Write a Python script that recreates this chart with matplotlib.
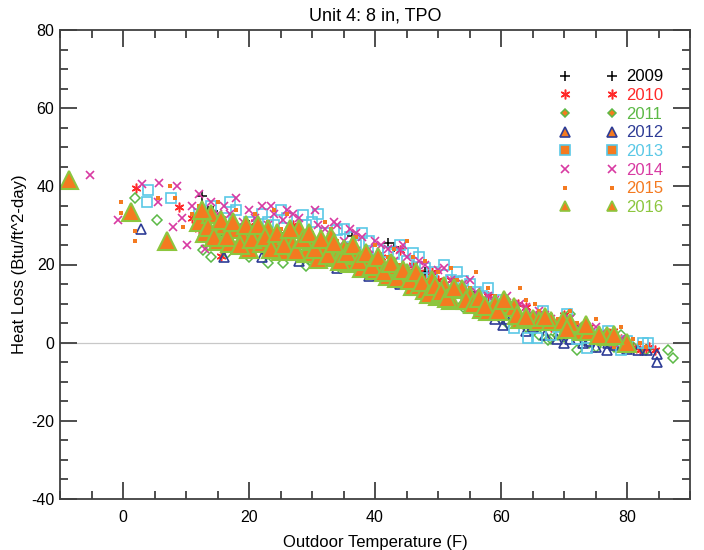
import matplotlib
matplotlib.use("Agg")
import matplotlib.pyplot as plt
from matplotlib.lines import Line2D
from matplotlib.ticker import MultipleLocator

plt.rcParams['font.family'] = ['Liberation Sans', 'DejaVu Sans']
plt.rcParams['axes.unicode_minus'] = False

years = ['2009', '2010', '2011', '2012', '2013', '2014', '2015', '2016']
colors = ['#000000', '#ff2a2a', '#5cb946', '#2e3c96', '#5ac8e6', '#d83aa2', '#f47a20', '#8cc63e']
fill_2016 = '#f47a20'

t2009 = [12.5, 13.5, 14.3, 20, 25, 31, 36.3, 42, 43, 48, 55, 65, 72]
h2009 = [37.4, 33.8, 33.8, 30, 28, 26, 27.4, 25.6, 24.6, 18, 13, 7, 4]

t2010 = [2.1, 8.9, 11, 13, 15.6, 17, 19, 21, 24, 26, 29, 32, 34, 37, 40, 42, 44, 47, 50, 53,
         56, 59, 62.7, 64, 66, 68, 70, 72, 75, 77.8, 79, 84.5, 83,
         12, 14, 16, 18, 20, 22, 23, 25, 27, 28, 30, 33, 35, 36, 38, 39, 41, 43, 45, 46,
         48, 49, 51, 52, 54, 55, 57, 58, 60, 61, 63, 65, 67, 69, 71, 73, 74, 76, 78, 80,
         81, 82, 83.5]
h2010 = [39.5, 34.6, 32, 27, 22.3, 30, 26, 31, 27, 24, 28, 25, 23, 24, 21, 20, 23.6, 18, 16, 13,
         12, 10, 10, 9, 6, 4, 7, 3, 2, 3, 1, -2, -1.5,
         29, 33, 28, 25, 28, 24, 29, 26, 30, 22, 26, 27, 22, 25, 20, 23, 22, 19, 17, 20,
         16, 18, 14, 16, 13, 11, 10, 12, 8, 10, 6, 7, 5, 5, 3, 2, 4, 1, 2, 0,
         -1, -2, -1]

t2011 = [1.9, 5.4, 12.7, 15, 16.5, 20, 22, 25.4, 28, 30, 33, 34.4, 38, 40, 43, 45, 48, 50, 53, 56,
         58, 60, 63, 65, 67.5, 69, 71, 72, 73, 75, 77, 79, 81, 86.5, 87.3,
         14, 18, 21, 23, 26, 29, 31, 36, 39, 42, 46, 49, 51, 54, 57, 59, 61, 64, 66, 68,
         70, 74, 76, 78, 80, 83]
h2011 = [37, 31.5, 23.6, 27, 23, 22, 25, 20.5, 23, 20.5, 22, 19, 20, 17, 18, 15, 14, 12, 11, 8,
         9, 6, 5, 3, 0.8, 2, 7.4, -1.9, 1, -1, 0.5, 2, -1, -2, -3.8,
         22, 26, 24, 20.5, 23, 19.5, 22, 20, 18, 16, 16, 13, 10, 9, 7, 7, 5, 4, 2, 1,
         1.5, 0, 1, -1, 0, -2]

t2012 = [2.9, 15, 18, 21, 24, 27, 30, 33, 36, 38, 41, 43, 46, 49, 52, 55, 58, 60.3, 63, 65,
         67, 68.9, 71, 73, 75, 76.8, 78, 80, 81.7, 83.2, 84.8, 84.8,
         14, 16, 19, 22, 25, 28, 31, 34, 37, 39, 42, 44, 47, 50, 53, 56, 59, 61, 64, 66,
         70, 72, 74, 77]
h2012 = [29, 26, 24, 26, 23, 24, 22, 21, 21, 19, 18, 17, 15, 13, 11, 9, 8, 4.4, 5, 4,
         2, 1, 1, 0, -1, -2, -0.5, -1.5, -1.9, -1.9, -2.9, -5,
         28, 22, 27, 22, 25, 21, 24, 19, 22, 17, 19, 15, 16, 12, 13, 10, 6, 6, 3, 5,
         0, 2, 0.5, 0]

t2013 = [4, 3.8, 7.6, 12, 14, 16, 18, 20, 22, 24, 26, 28.5, 30, 32, 34, 36, 38, 40.5, 42, 43,
         45, 47, 49, 51, 52, 54, 56, 58, 60, 62, 64.3, 65.7, 66.7, 68, 70.5, 72, 73.6, 76, 77,
         79, 82.5, 83.3,
         13, 17, 19, 23, 25, 29, 31, 35, 37, 39, 44, 46, 48, 53, 55, 57, 59, 61, 69, 75, 80]
h2013 = [39, 36, 37, 33, 35, 32, 34, 31, 33, 30, 32, 32.6, 31, 28, 28.7, 27, 28, 23.6, 23.3, 22.8,
         21, 21.8, 18, 20, 16, 15.9, 13, 14, 11, 3.8, 1.3, 1.3, 8.2, 2, 7.4, 1, -1.3, 1, 3,
         -2, 0, 0,
         31, 36, 29, 31, 34, 30, 33, 29, 25, 26, 25, 23, 19, 18, 15, 12, 10, 8, 4, 2, 0.5]

t2014 = [-5.2, -0.8, 3, 5.7, 5.6, 7.9, 8.6, 9.4, 10.2, 11, 12, 13, 14, 16, 17, 18, 19, 20, 22, 23,
         24, 25.4, 26, 28, 29, 31, 32, 33, 34, 35, 36, 38, 39, 40, 42, 43, 44, 45, 46, 48,
         49, 50, 52, 53, 54, 56, 57, 58, 60, 61, 62, 64, 65, 66, 68, 70, 71, 73, 75, 77, 79,
         12.5, 15, 17.5, 21, 23.5, 27, 30.5, 33.5, 37, 41, 44.5, 47, 51, 55, 59, 63, 67, 69,
         72, 74, 76, 78, 80]
h2014 = [42.8, 31.3, 40.7, 40.8, 36, 29.7, 40, 32, 25, 35, 38, 24, 36, 35, 33, 37, 31, 34, 35, 30,
         33, 31.5, 34, 32, 28, 30, 29, 27, 30, 26, 29, 27, 24, 26, 24, 21, 23.6, 22, 19, 20,
         17, 18.7, 16, 14, 15, 13, 11, 12, 10, 12, 9, 9, 7, 8, 6, 5, 6, 3, 4, 2, 1,
         32, 33, 30, 32, 35, 33, 34, 31, 28, 25, 25, 21, 19, 16, 11, 10, 7, 5,
         4, 3, 2.5, 0, -0.5]

t2015 = [-0.3, -0.3, 1.9, 1.9, 5.5, 7.5, 8.2, 9.5, 11, 12, 14, 15, 16, 17, 18, 19, 21, 22, 23, 25,
         26, 27, 28, 30, 31, 32, 34, 35, 37, 38, 40, 41, 42, 44, 45, 47, 48, 50, 51, 53,
         55, 56, 57, 59, 60, 62, 63, 65.4, 66, 67, 69, 70, 72, 74, 75, 77, 78, 80, 82,
         13, 20, 24, 29, 33, 36, 39, 43, 46, 49, 52, 54, 58, 61, 64, 68, 71, 73, 76, 79,
         81, 83]
h2015 = [36, 33.3, 28.5, 26, 37, 40, 37, 29.7, 33, 35, 31, 36, 32, 28, 34, 30, 33, 27, 31, 29,
         33, 26, 30, 28, 24, 31, 26, 22, 27, 23, 25, 19, 22, 20, 26, 17, 21, 18, 13, 16,
         14, 18, 10, 12, 8, 10, 14, 10, 8, 4, 6, 3, 5, 2, 6, 3, -1, 1, 0,
         29, 26, 34, 25, 29, 25, 21, 24, 22, 15, 19, 12, 14, 11, 11, 7, 8, 4, 1, 4,
         1, -1]

t2016 = [-8.5, 1.2, 7, 12, 13, 14, 15, 16, 17, 18, 19, 20, 21, 22, 23, 24, 25, 26, 27, 28,
         29, 30, 31, 32, 33, 34, 35, 36, 37, 38, 39, 40, 41, 42, 43, 45, 46, 47, 48, 49,
         50, 51, 52, 53.8, 55, 57, 58, 59, 61, 62, 63, 65, 66, 68, 69.8, 71, 72.9, 74, 76.8, 80,
         12.5, 13.5, 14.5, 15.5, 16.5, 17.5, 18.5, 19.5, 20.5, 21.5, 22.5, 23.5, 24.5, 25.5,
         26.5, 27.5, 28.5, 29.5, 30.5, 31.5, 32.5, 33.5, 34.5, 35.5, 36.5, 37.5, 38.5, 39.5,
         40.5, 41.5, 42.5, 43.5, 44.5, 45.5, 46.5, 47.5, 48.5, 49.5, 50.5, 51.5, 52.5, 54.5,
         55.5, 56.5, 57.5, 59.5, 60.5, 62.5, 64, 67, 70.5, 73.5, 75.5, 78]
h2016 = [41.5, 33.5, 26, 31, 28, 33, 26, 30, 25.5, 29, 27, 24, 28, 25.5, 29, 26, 23.5, 27.5, 25, 29,
         23, 26, 21.5, 24.5, 27, 22, 24, 20.5, 22.5, 19, 21.5, 18.5, 20, 17, 19.5, 17.7, 14.5, 14.6, 13.5, 16,
         12, 14.5, 11, 13.8, 12, 8.7, 8, 10, 10, 9, 6, 6, 5.5, 5.6, 5.6, 5, 3, 3, 1.8, 0,
         34, 29.5, 27, 31.5, 27, 31, 25, 30, 26.5, 30, 27, 24, 28, 25,
         29, 23.5, 26.5, 28, 24, 26.5, 22.5, 25.5, 21, 23, 25, 21, 23, 19.5,
         22, 18, 20.5, 16.5, 18.5, 16, 18, 15.5, 12.5, 14.5, 13, 11.5, 14, 11,
         10, 11.5, 9.5, 8, 11, 7, 6.5, 6.5, 3.5, 4.5, 2, 2]

temps = [t2009, t2010, t2011, t2012, t2013, t2014, t2015, t2016]
heat = [h2009, h2010, h2011, h2012, h2013, h2014, h2015, h2016]

asterisk = (6, 2, 0)
styles = [
    dict(marker='+', ms=7, mfc='none', mew=1.1),
    dict(marker=asterisk, ms=7, mfc='none', mew=1.1),
    dict(marker='D', ms=5, mfc='none', mew=1.1),
    dict(marker='^', ms=7, mfc='none', mew=1.2),
    dict(marker='s', ms=7, mfc='none', mew=1.2),
    dict(marker='x', ms=6, mfc='none', mew=1.2),
    dict(marker='s', ms=3.2, mfc=colors[6], mew=0),
    dict(marker='^', ms=13, mfc=fill_2016, mew=1.5),
]

fig = plt.figure(figsize=(7.04, 5.5), dpi=100)
ax = fig.add_axes([60/704, 51/550, 630/704, 469/550])

ax.axhline(0, color='#c8c8c8', lw=0.9, zorder=0)

for t, h, c, st in zip(temps, heat, colors, styles):
    ax.plot(t, h, linestyle='none', color=c, mec=c, **st)

ax.set_xlim(-10, 90)
ax.set_ylim(-40, 80)
ax.xaxis.set_major_locator(MultipleLocator(20))
ax.xaxis.set_minor_locator(MultipleLocator(5))
ax.yaxis.set_major_locator(MultipleLocator(20))
ax.yaxis.set_minor_locator(MultipleLocator(5))
ax.tick_params(which='both', direction='in', top=True, right=True, color='#404040',
               labelsize=11.5, width=1.3)
ax.tick_params(which='major', length=12)
ax.tick_params(which='minor', length=6)
ax.tick_params(axis='x', which='major', pad=8)
ax.tick_params(axis='y', which='major', pad=4)
for s in ax.spines.values():
    s.set_color('#404040')
    s.set_linewidth(1.3)

ax.set_title('Unit 4: 8 in, TPO', fontsize=13, pad=7)
ax.set_xlabel('Outdoor Temperature (F)', fontsize=12, labelpad=7)
ax.set_ylabel('Heat Loss (Btu/ft^2-day)', fontsize=12, labelpad=3)

leg_styles = [
    dict(marker='+', ms=7, mfc='none', mew=1.1),
    dict(marker=asterisk, ms=7, mfc='none', mew=1.1),
    dict(marker='D', ms=4.5, mfc=fill_2016, mew=1.1),
    dict(marker='^', ms=7, mfc=fill_2016, mew=1.2),
    dict(marker='s', ms=6.5, mfc=fill_2016, mew=1.2),
    dict(marker='x', ms=6, mfc='none', mew=1.2),
    dict(marker='s', ms=3.5, mfc=colors[6], mew=0),
    dict(marker='^', ms=7.5, mfc=fill_2016, mew=1.2),
]
handles = [Line2D([], [], linestyle='none', color=c, mec=c, **st)
           for c, st in zip(colors, leg_styles)]
ax.legend(handles, years, loc='upper left', bbox_to_anchor=(0.794, 0.916), frameon=False,
          numpoints=2, handlelength=3.41, handletextpad=0.55, labelspacing=0.22,
          fontsize=12, labelcolor=colors, borderaxespad=0, borderpad=0)

fig.savefig('out.png', dpi=100)
